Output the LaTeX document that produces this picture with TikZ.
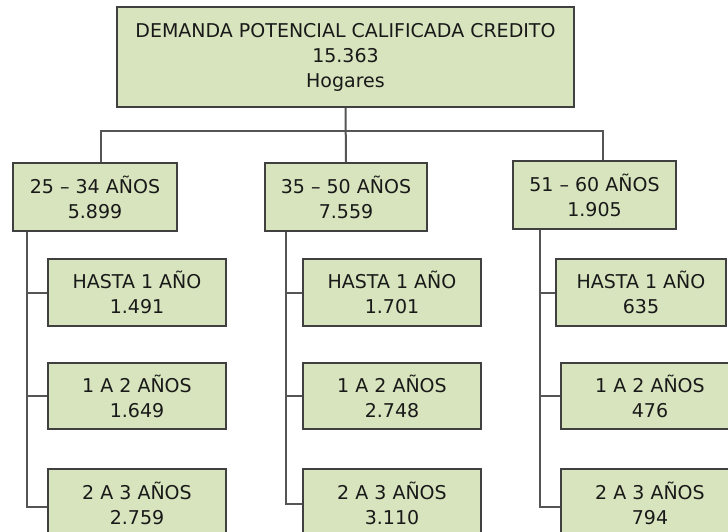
\documentclass[tikz,border=0pt]{standalone}
\usepackage{fontspec}
\setmainfont{DejaVu Sans}
\usepackage{tikz}
\usetikzlibrary{calc}

\definecolor{boxfill}{HTML}{D7E4BD}
\definecolor{boxline}{HTML}{404040}
\definecolor{linkline}{HTML}{555555}

\begin{document}
\begin{tikzpicture}[x=1pt,y=1pt,
  box/.style={draw=boxline, fill=boxfill, line width=2pt, align=center,
    inner sep=0pt, text=black!90, font=\fontsize{19}{25}\selectfont},
  link/.style={draw=linkline, line width=2pt}]
  \clip (0,0) rectangle (728,531);
  \fill[white] (0,0) rectangle (728,531);

  % root
  \node[box, minimum width=457, minimum height=100] (top) at (345.5,474)
    {DEMANDA POTENCIAL CALIFICADA CREDITO\\15.363\\Hogares};

  % age groups
  \node[box, minimum width=164, minimum height=68] (a) at (95,334) {25 – 34 AÑOS\\5.899};
  \node[box, minimum width=162, minimum height=68] (b) at (346,334) {35 – 50 AÑOS\\7.559};
  \node[box, minimum width=163, minimum height=68] (c) at (594.5,336) {51 – 60 AÑOS\\1.905};

  % years in each group
  \node[box, minimum width=178, minimum height=67] (a1) at (137,238.5) {HASTA 1 AÑO\\1.491};
  \node[box, minimum width=178, minimum height=66] (a2) at (137,135) {1 A 2 AÑOS\\1.649};
  \node[box, minimum width=178, minimum height=68] (a3) at (137,28) {2 A 3 AÑOS\\2.759};

  \node[box, minimum width=178, minimum height=67] (b1) at (392,238.5) {HASTA 1 AÑO\\1.701};
  \node[box, minimum width=178, minimum height=66] (b2) at (392,135) {1 A 2 AÑOS\\2.748};
  \node[box, minimum width=178, minimum height=68] (b3) at (392,28) {2 A 3 AÑOS\\3.110};

  \node[box, minimum width=170, minimum height=67] (c1) at (641,238.5) {HASTA 1 AÑO\\635};
  \node[box, minimum width=178, minimum height=66] (c2) at (650,135) {1 A 2 AÑOS\\476};
  \node[box, minimum width=178, minimum height=68] (c3) at (650,28) {2 A 3 AÑOS\\794};

  % root to age groups
  \draw[link] (top.south) -- (b.north);
  \draw[link] ([xshift=6]a.north) -- ++(0,31) -| ([xshift=8.5]c.north);

  % trunks
  \coordinate (ta) at ([xshift=15]a.south west);
  \coordinate (tb) at ([xshift=22]b.south west);
  \coordinate (tc) at ([xshift=28]c.south west);
  \draw[link] (ta) |- ([yshift=-4]a3.west);
  \draw[link] (tb) |- ([yshift=-1]b3.west);
  \draw[link] (tc) |- ([yshift=-4]c3.west);
  \foreach \g in {a,b,c}{
    \draw[link] (\g1.west) -- (\g1.west -| t\g);
    \draw[link] (\g2.west) -- (\g2.west -| t\g);
  }
\end{tikzpicture}
\end{document}
